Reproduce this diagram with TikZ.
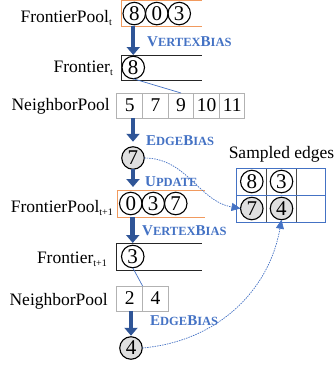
\documentclass[tikz,border=0pt]{standalone}
\usepackage{fontspec}
\setmainfont{Liberation Serif}
\usepackage{xcolor}
\usepackage{tikz}
\usetikzlibrary{arrows.meta, positioning, calc}

\definecolor{arrowblue}{HTML}{2F5597}
\definecolor{labelblue}{HTML}{4472C4}
\definecolor{poolorange}{HTML}{F19A5E}

\newcommand{\lowidx}[1]{\raisebox{-0.2em}{\fontsize{10}{10}\selectfont #1}}
\newcommand{\capsword}[2]{{\fontsize{15}{15}\selectfont #1}{\fontsize{12.5}{13}\selectfont #2}}

\begin{document}
\begin{tikzpicture}[x=1pt, y=-1pt,
  vtx/.style={circle, draw, line width=1.1pt, inner sep=0pt, outer sep=0pt, minimum size=22.5pt, font=\fontsize{21}{21}\selectfont},
  gvtx/.style={vtx, fill=gray!25},
  cell/.style={rectangle, draw=gray!60, line width=1pt, inner sep=0pt, outer sep=0pt, minimum width=25.6pt, minimum height=25pt, font=\fontsize{19.5}{19.5}\selectfont},
  openbox/.style={inner sep=0pt, outer sep=0pt, anchor=north west},
  rowlabel/.style={anchor=base east, inner sep=0pt, font=\fontsize{17.5}{20}\selectfont},
  bias/.style={anchor=base west, inner sep=0pt, text=labelblue, font=\bfseries},
  bigarrow/.style={draw=arrowblue, line width=4.5pt, -{Triangle[length=8pt, width=13pt]}},
  hop/.style={draw=labelblue, line width=0.7pt, dash pattern=on 1.5pt off 1pt, -{Triangle[length=9pt, width=8pt]}},
  link/.style={draw=labelblue, line width=0.7pt}]

\useasboundingbox (0,0) rectangle (334,368);

% Step t
\node (fp1) [openbox, minimum width=80pt, minimum height=25.5pt] at (122,0.8) {};
\node (p8) [vtx, right=1pt of fp1.west] {8};
\node (p0) [vtx, right=0pt of p8] {0};
\node (p3) [vtx, right=0pt of p0] {3};
\node (lfp1) [rowlabel] at (112,22) {FrontierPool\lowidx{t}};

\node (fr1) [openbox, minimum width=80pt, minimum height=25pt] at (122,55) {};
\node (f8) [vtx, right=0pt of fr1.west] {8};
\node (lfr1) [rowlabel] at (113,72) {Frontier\lowidx{t}};

\node (nb5) [cell] at (129.8,105.5) {5};
\node (nb7) [cell, right=0pt of nb5] {7};
\node (nb9) [cell, right=0pt of nb7] {9};
\node (nb10) [cell, right=0pt of nb9] {10};
\node (nb11) [cell, right=0pt of nb10] {11};
\node (lnb1) [rowlabel] at (110,110) {NeighborPool};

\node (pick7) [gvtx] at (133,158) {7};

% Step t+1
\node (fp2) [openbox, minimum width=87pt, minimum height=27pt] at (118,190) {};
\node (q0) [vtx, right=1.5pt of fp2.west] {0};
\node (q3) [vtx, right=0pt of q0] {3};
\node (q7) [vtx, right=0pt of q3] {7};
\node (lfp2) [rowlabel] at (113,212) {FrontierPool\lowidx{t+1}};

\node (fr2) [openbox, minimum width=85pt, minimum height=27pt] at (117,243) {};
\node (g3) [vtx, right=4.5pt of fr2.west] {3};
\node (lfr2) [rowlabel] at (107,263) {Frontier\lowidx{t+1}};

\node (nb2) [cell] at (129.8,298.5) {2};
\node (nb4) [cell, right=0pt of nb2] {4};
\node (lnb2) [rowlabel] at (108,305) {NeighborPool};

\node (pick4) [gvtx] at (131,348) {4};

% Sampled edges
\node (grid) [openbox, minimum width=89pt, minimum height=54pt] at (237,168) {};
\node (sampled) [above=6pt of grid, inner sep=0pt, font=\fontsize{17.5}{20}\selectfont] {Sampled edges};
\node (s8) [vtx] at (251.8,181.5) {8};
\node (s3) [vtx] at (281.5,181.5) {3};
\node (s7) [gvtx] at (251.8,208.5) {7};
\node (s4) [gvtx] at (281.5,208.5) {4};
\draw [black!70, line width=1pt] ($(grid.north west)!1/3!(grid.north east)$) -- ($(grid.south west)!1/3!(grid.south east)$);
\draw [black!70, line width=1pt] ($(grid.north west)!2/3!(grid.north east)$) -- ($(grid.south west)!2/3!(grid.south east)$);
\draw [labelblue, line width=1pt] (grid.west) -- (grid.east);
\draw [labelblue, line width=1pt] (grid.north west) rectangle (grid.south east);

% Open boxes
\draw [poolorange, line width=1pt] (fp1.north east) -- (fp1.north west) -- (fp1.south west) -- (fp1.south east);
\draw [black!85, line width=1pt] (fr1.north east) -- (fr1.north west) -- (fr1.south west) -- (fr1.south east);
\draw [poolorange, line width=1pt] (fp2.north east) -- (fp2.north west) -- (fp2.south west) -- (fp2.south east);
\draw [black!85, line width=1pt] (fr2.north east) -- (fr2.north west) -- (fr2.south west) -- (fr2.south east);

% Arrows
\draw [bigarrow] (fp1.south -| f8) -- (fr1.north -| f8);
\draw [bigarrow, shorten >=5pt] (nb5.south -| pick7) -- (pick7.north);
\draw [bigarrow, shorten >=3pt] (pick7.south) -- (fp2.north -| pick7);
\draw [bigarrow] (fp2.south -| g3) -- (fr2.north -| g3);
\draw [bigarrow, shorten >=1pt] (nb2.south -| pick4) -- (pick4.north);

\node (vb1) [bias] at (147,46) {\capsword{V}{ERTEX}\capsword{B}{IAS}};
\node (eb1) [bias] at (146,145) {\capsword{E}{DGE}\capsword{B}{IAS}};
\node (upd) [bias] at (145,186) {\capsword{U}{PDATE}};
\node (vb2) [bias] at (142,235) {\capsword{V}{ERTEX}\capsword{B}{IAS}};
\node (eb2) [bias] at (150,325) {\capsword{E}{DGE}\capsword{B}{IAS}};

% Links
\draw [link] (f8.south) -- (nb9.north);
\draw [link] (g3.south) -- (nb4.north west);
\draw [hop] (pick7.east) to[out=0, in=170] (s7.west);
\draw [hop] (pick4.east) to[out=5, in=-100] (s4.south);

\end{tikzpicture}
\end{document}
